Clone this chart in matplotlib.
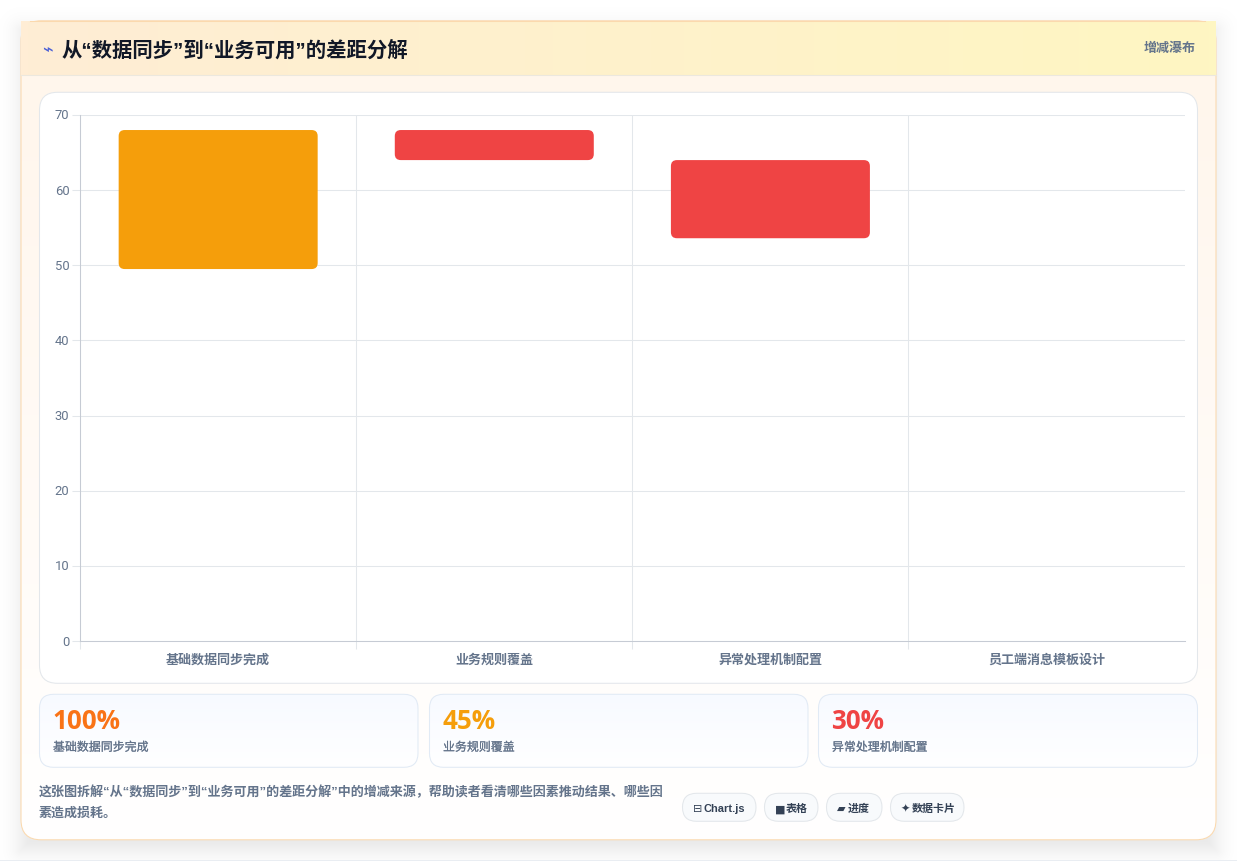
import numpy as np
import matplotlib
matplotlib.use('Agg')
import matplotlib.pyplot as plt
import matplotlib.patheffects as pe
from matplotlib.patches import FancyBboxPatch, Rectangle
from matplotlib.colors import LinearSegmentedColormap
from matplotlib.transforms import ScaledTranslation

plt.rcParams['font.family'] = ['Liberation Sans', 'Noto Sans CJK SC', 'DejaVu Sans']

# waterfall data
categories = ['基础数据同步完成', '业务规则覆盖', '异常处理机制配置', '员工端消息模板设计']
bar_tops = [68, 68, 64]
bar_bottoms = [49.5, 64, 53.6]
bar_colors = ['#f59e0b', '#ef4444', '#ef4444']
y_ticks = [0, 10, 20, 30, 40, 50, 60, 70]

# stat cards
stat_values = ['100%', '45%', '30%']
stat_labels = ['基础数据同步完成', '业务规则覆盖', '异常处理机制配置']
stat_colors = ['#f97316', '#f59e0b', '#ef4444']

title = '从“数据同步”到“业务可用”的差距分解'
badge = '增减瀑布'
note_lines = ['这张图拆解“从“数据同步”到“业务可用”的差距分解”中的增减来源，帮助读者看清哪些因素推动结果、哪些因',
              '素造成损耗。']
chips = [('⊟', 'Chart.js'), ('■', '表格'), ('▰', '进度'), ('✦', '数据卡片')]

W, H = 1237, 862
SLATE = '#64748b'
GRID = '#e3e7eb'
LW = 0.75


def rbox(ax, x0, y0, x1, y1, r, **kw):
    p = FancyBboxPatch((x0, y0), x1 - x0, y1 - y0, boxstyle=f'round,pad=0,rounding_size={r}', **kw)
    ax.add_patch(p)
    return p


def gradient(ax, clip, x0, y0, x1, y1, c0, c1, horizontal=False, z=1):
    cmap = LinearSegmentedColormap.from_list('g', [c0, c1])
    g = np.linspace(0, 1, 256)
    g = g.reshape(1, -1) if horizontal else g.reshape(-1, 1)
    im = ax.imshow(g, cmap=cmap, extent=(x0, x1, y1, y0), aspect='auto', zorder=z, interpolation='bilinear')
    im.set_clip_path(clip)
    return im


fig = plt.figure(figsize=(W / 100, H / 100), dpi=100, facecolor='white')
bg = fig.add_axes([0, 0, 1, 1])
bg.axis('off')

# soft drop shadow under the card, offset downward
xx, yy = np.meshgrid(np.arange(W) + 0.5, np.arange(H) + 0.5)
sx = np.maximum(21 - xx, xx - 1216)
sy = np.maximum(31 - yy, yy - 850)
sd = np.hypot(np.maximum(sx, 0), np.maximum(sy, 0)) + np.minimum(np.maximum(sx, sy), 0)
rgba = np.zeros((H, W, 4))
rgba[..., :3] = 0.05
rgba[..., 3] = 0.11 * 0.5 * (1 - np.tanh(sd / 14))
bg.imshow(rgba, extent=(0, W, H, 0), aspect='auto', zorder=0)
bg.add_patch(Rectangle((0, 860.5), W, 1.5, fc='#e9edf2', ec='none', zorder=0.5))

# card body and outline
card = rbox(bg, 21, 21, 1216, 840, 20, fc='#fff7ed', ec='none', zorder=1)
gradient(bg, card, 21, 75, 1216, 840, '#fff6ec', '#ffffff', z=1.1)
rbox(bg, 21, 21, 1216, 840, 20, fc='none', ec='#fbd9ae', lw=LW, zorder=1.2)

# header band sits over the outline, so its top corners run nearly square
head_clip = Rectangle((21, 21), 1195, 54.5, transform=bg.transData)
gradient(bg, head_clip, 21, 21, 1216, 76, '#ffedd5', '#fef6c2', horizontal=True, z=1.3)
bg.plot([30, 1205], [21.3, 21.3], color='#fbd9ae', lw=LW, zorder=1.4)
bg.plot([21, 1216], [75.5, 75.5], color='#ece8de', lw=LW, zorder=1.4)

bg.text(47, 50, '⌁', fontsize=13, color='#4a5fd6', ha='center', va='center', family='DejaVu Sans', zorder=3)
bg.text(62, 50, title, fontsize=14.7, fontweight='bold', color='#111827', ha='left', va='center', zorder=3)
bg.text(1196, 48, badge, fontsize=9.4, fontweight='bold', color=SLATE, ha='right', va='center', zorder=3)

# chart panel
rbox(bg, 39.5, 92.5, 1197.5, 683.5, 18, fc='white', ec=GRID, lw=LW, zorder=2)

# stat cards
semi = [pe.withStroke(linewidth=0.12, foreground=SLATE)]
card_x = [(39.5, 418), (429.5, 808), (818.5, 1197.5)]
for (x0, x1), v, lab, col in zip(card_x, stat_values, stat_labels, stat_colors):
    p = rbox(bg, x0, 694.5, x1, 767.5, 14, fc='white', ec='none', zorder=2)
    gradient(bg, p, x0, 694.5, x1, 767.5, '#f7faff', '#ffffff', z=2.1)
    rbox(bg, x0, 694.5, x1, 767.5, 14, fc='none', ec='#e1eaf5', lw=LW, zorder=2.2)
    bg.text(x0 + 13, 721, v, fontsize=18.7, fontweight='bold', family='Open Sans', color=col,
            ha='left', va='center', zorder=3)
    bg.text(x0 + 13.5, 748, lab, fontsize=8.6, color=SLATE, ha='left', va='center', zorder=3, path_effects=semi)

# footer note
for y, line in zip([791.5, 813], note_lines):
    bg.text(39, y, line, fontsize=9.4, fontweight='bold', color=SLATE, ha='left', va='center', zorder=3)

# chips
chip_x = [(682.5, 756), (764.5, 818), (826.5, 882), (890.5, 964)]
for (x0, x1), (icon, name) in zip(chip_x, chips):
    rbox(bg, x0, 793.5, x1, 821.5, 14, fc='#f8fafc', ec=GRID, lw=LW, zorder=2)
    bg.text(x0 + 10, 808.5, icon, fontsize=8, color='#334155', ha='left', va='center', family='DejaVu Sans', zorder=3)
    bg.text(x0 + 21.5, 808, name, fontsize=7.9, fontweight='bold', color='#334155', ha='left', va='center', zorder=3)

# nudge the overlay by a fraction of a pixel so the outlines land on whole rows
bg.set_xlim(0, W)
bg.set_ylim(H - 0.8, -0.8)

# waterfall chart
left, right, top, bottom = 80.1, 1184.6, 116, 642
ax = fig.add_axes([left / W, 1 - bottom / H, (right - left) / W, (bottom - top) / H], facecolor='none')
ax.set_xlim(-0.5, 3.5)
ax.set_ylim(0, 70)

px_x = (right - left) / 4
px_y = (bottom - top) / 70
bar_width = 199 / px_x
for i, (t, b, c) in enumerate(zip(bar_tops, bar_bottoms, bar_colors)):
    ax.add_patch(FancyBboxPatch((i - bar_width / 2, b), bar_width, t - b,
                                boxstyle=f'round,pad=0,rounding_size={6 / px_x}',
                                mutation_aspect=px_x / px_y, fc=c, ec='none', zorder=3))

ax.set_yticks(y_ticks)
ax.set_xticks(range(len(categories)))
ax.set_xticklabels(categories, fontsize=9.4, fontweight='bold', color=SLATE)
ax.set_xticks([-0.5, 0.5, 1.5, 2.5], minor=True)
ax.grid(True, axis='y', color=GRID, lw=LW, zorder=0)
ax.grid(True, axis='x', which='minor', color=GRID, lw=LW, zorder=0)
ax.grid(False, axis='x', which='major')
ax.tick_params(axis='x', which='major', length=0, pad=8.5)
ax.tick_params(axis='x', which='minor', length=5.8, color=GRID, width=LW)
ax.tick_params(axis='y', length=5.8, color=GRID, width=LW, pad=2)
up = ScaledTranslation(0, 1.5 / 100, fig.dpi_scale_trans)
for lab in ax.get_yticklabels():
    lab.set_fontsize(9.4)
    lab.set_color(SLATE)
    lab.set_family('Roboto')
    lab.set_transform(lab.get_transform() + up)
for s in ['top', 'right']:
    ax.spines[s].set_visible(False)
for s in ['left', 'bottom']:
    ax.spines[s].set_color('#c6cbd4')
    ax.spines[s].set_linewidth(LW)

fig.savefig('out.png', dpi=100)
